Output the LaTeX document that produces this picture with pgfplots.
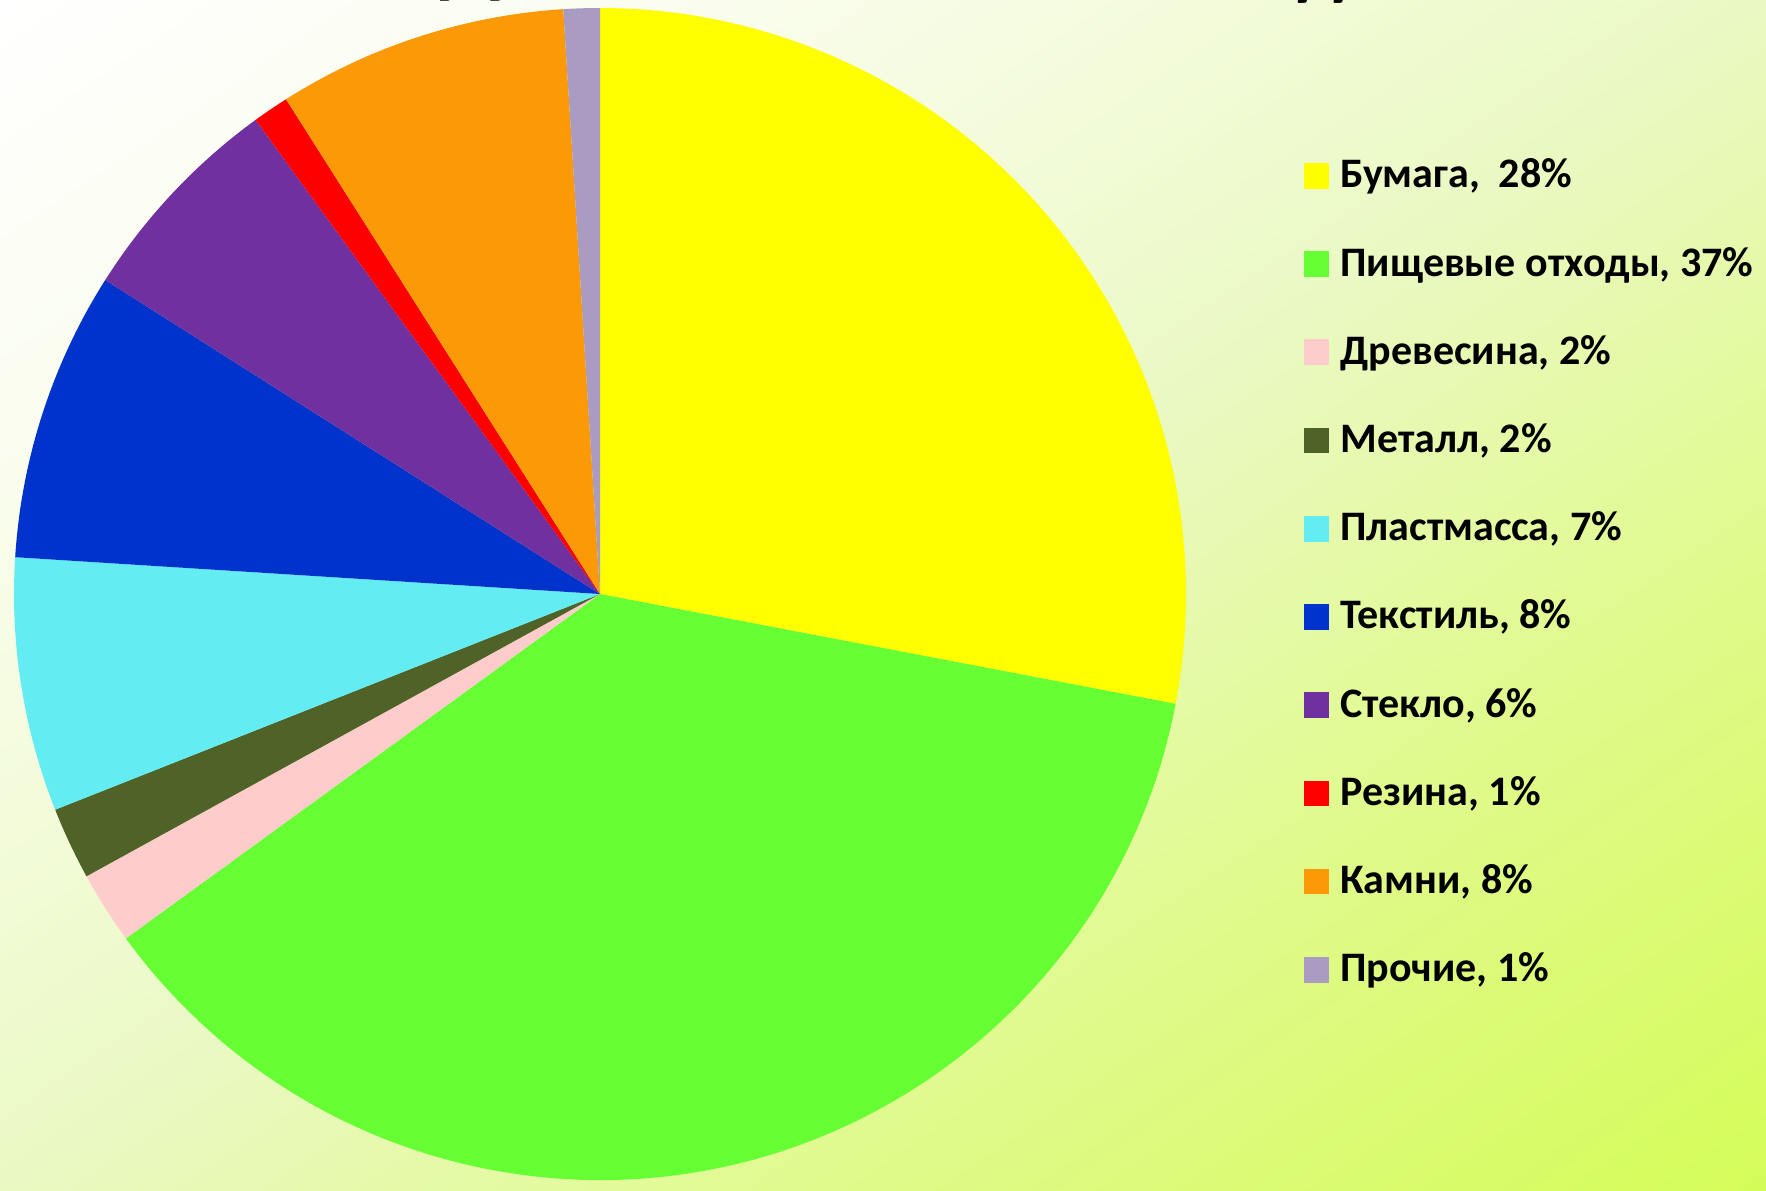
\documentclass[border=0pt]{standalone}
\usepackage{fontspec}
\setmainfont{Carlito}
\usepackage{pgfplots}
\usepackage{pgfplotstable}
\pgfplotsset{compat=1.18}

\definecolor{cPaper}{RGB}{255,255,0}
\definecolor{cFood}{RGB}{102,255,51}
\definecolor{cWood}{RGB}{255,204,204}
\definecolor{cMetal}{RGB}{79,98,40}
\definecolor{cPlastic}{RGB}{99,236,242}
\definecolor{cTextile}{RGB}{0,51,204}
\definecolor{cGlass}{RGB}{112,48,160}
\definecolor{cRubber}{RGB}{255,0,0}
\definecolor{cStone}{RGB}{251,153,6}
\definecolor{cOther}{RGB}{169,155,193}

\definecolor{bg0}{RGB}{255,255,255}
\definecolor{bg1}{RGB}{250,253,238}
\definecolor{bg2}{RGB}{242,251,215}
\definecolor{bg3}{RGB}{234,249,195}
\definecolor{bg4}{RGB}{224,250,140}
\definecolor{bg5}{RGB}{212,252,88}
\pgfdeclarehorizontalshading{bgshade}{100bp}{color(0bp)=(bg0); color(25bp)=(bg0); color(35bp)=(bg1); color(43.5bp)=(bg2); color(50bp)=(bg3); color(61.5bp)=(bg4); color(75bp)=(bg5); color(100bp)=(bg5)}

\pgfplotstableread{
value color
28 cPaper
37 cFood
2  cWood
2  cMetal
7  cPlastic
8  cTextile
6  cGlass
1  cRubber
8  cStone
1  cOther
}\piedata

\begin{document}
\begin{tikzpicture}
\useasboundingbox (0pt,0pt) rectangle (441.5pt,297.5pt);
\begin{scope}
\clip (0pt,0pt) rectangle (441.5pt,297.5pt);
\begin{scope}[transform canvas={shift={(0pt,297.5pt)}, rotate=-56}]
  \shade[shading=bgshade] (0pt,-500pt) rectangle (494.25pt,500pt);
\end{scope}
% cut-off title (only descenders visible)
\node[anchor=base, inner sep=0pt, font=\bfseries\fontsize{24}{28}\selectfont] at (118pt,300.9pt) {Д};
\node[anchor=base, inner sep=0pt, font=\bfseries\fontsize{20}{24}\selectfont] at (330.3pt,299.9pt) {д};

\begin{axis}[
  at={(3.5pt,2.5pt)}, anchor=south west,
  width=293pt, height=293pt, scale only axis,
  xmin=-1, xmax=1, ymin=-1, ymax=1,
  hide axis, clip=false,
  legend style={
    at={(rel axis cs:1.0998,0.8729)}, anchor=north west,
    draw=none, fill=none, inner sep=0pt,
    row sep=12.06pt, column sep=2.75pt,
    cells={anchor=base west},
    nodes={inner sep=0pt, text height=7.5pt, text depth=2.5pt},
    font=\bfseries\fontsize{10.5}{12}\selectfont,
  },
]
\gdef\startang{90}
\pgfplotsforeachungrouped \i in {0,...,9}{%
  \pgfplotstablegetelem{\i}{value}\of\piedata \let\val\pgfplotsretval
  \pgfplotstablegetelem{\i}{color}\of\piedata \let\col\pgfplotsretval
  \pgfmathsetmacro\endang{\startang - 3.6*\val}%
  \edef\temp{\noexpand\fill[\col] (axis cs:0,0) -- ++(\startang:146.5pt) arc[start angle=\startang, end angle=\endang, radius=146.5pt] -- cycle;}%
  \temp
  \global\let\startang\endang
}
\addlegendimage{legend image code/.code={\fill[cPaper] (0pt,0pt) rectangle (6pt,6pt);}}
\addlegendentry{Бумага,\ \ 28\%}
\addlegendimage{legend image code/.code={\fill[cFood] (0pt,0pt) rectangle (6pt,6pt);}}
\addlegendentry{Пищевые отходы, 37\%}
\addlegendimage{legend image code/.code={\fill[cWood] (0pt,0pt) rectangle (6pt,6pt);}}
\addlegendentry{Древесина, 2\%}
\addlegendimage{legend image code/.code={\fill[cMetal] (0pt,0pt) rectangle (6pt,6pt);}}
\addlegendentry{Металл, 2\%}
\addlegendimage{legend image code/.code={\fill[cPlastic] (0pt,0pt) rectangle (6pt,6pt);}}
\addlegendentry{Пластмасса, 7\%}
\addlegendimage{legend image code/.code={\fill[cTextile] (0pt,0pt) rectangle (6pt,6pt);}}
\addlegendentry{Текстиль, 8\%}
\addlegendimage{legend image code/.code={\fill[cGlass] (0pt,0pt) rectangle (6pt,6pt);}}
\addlegendentry{Стекло, 6\%}
\addlegendimage{legend image code/.code={\fill[cRubber] (0pt,0pt) rectangle (6pt,6pt);}}
\addlegendentry{Резина, 1\%}
\addlegendimage{legend image code/.code={\fill[cStone] (0pt,0pt) rectangle (6pt,6pt);}}
\addlegendentry{Камни, 8\%}
\addlegendimage{legend image code/.code={\fill[cOther] (0pt,0pt) rectangle (6pt,6pt);}}
\addlegendentry{Прочие, 1\%}
\end{axis}
\end{scope}
\end{tikzpicture}
\end{document}
